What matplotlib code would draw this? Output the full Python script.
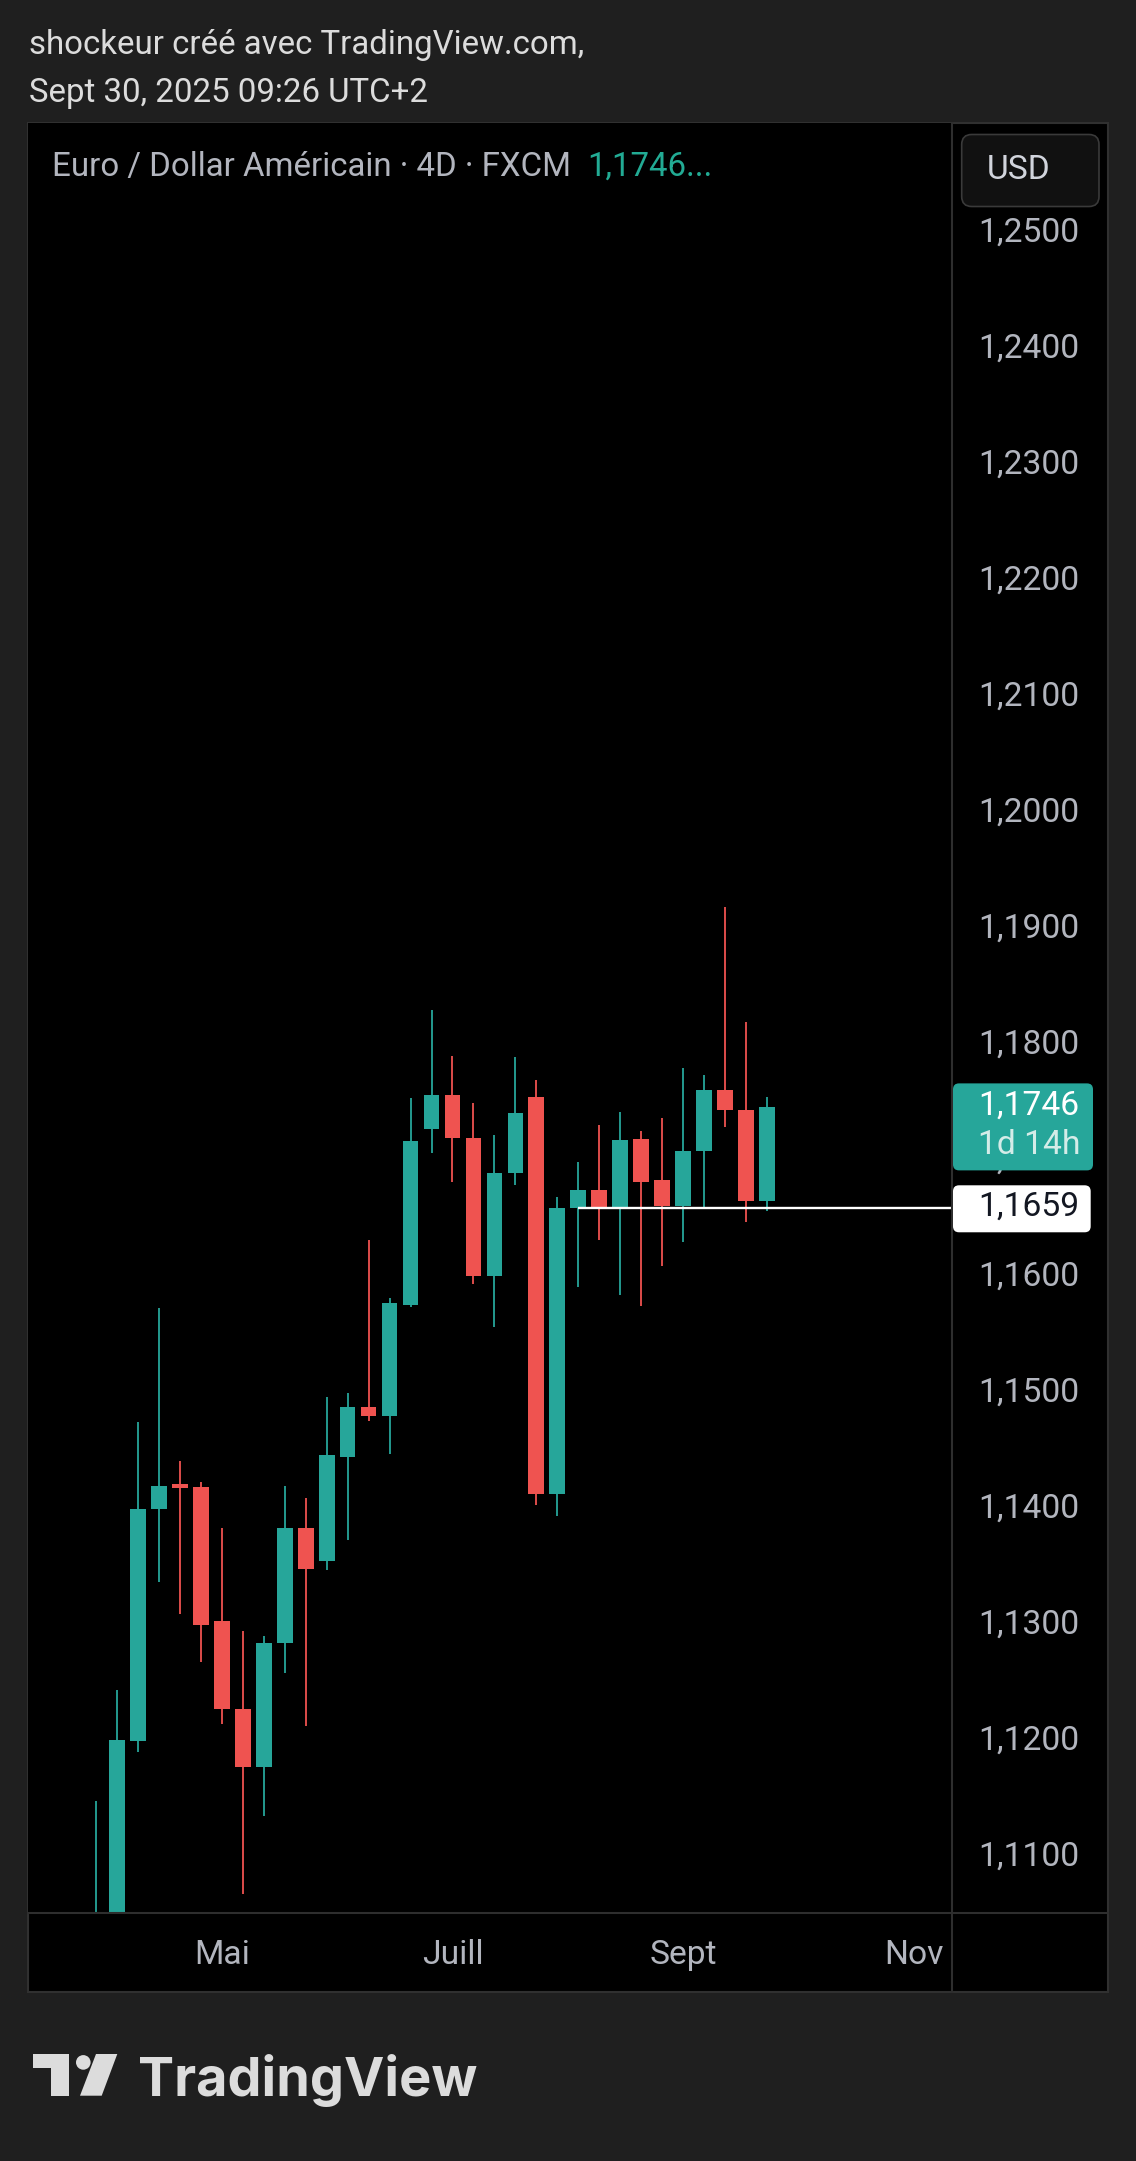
import matplotlib
matplotlib.use("Agg")
import matplotlib.pyplot as plt
from matplotlib.patches import Rectangle, FancyBboxPatch, Circle, Polygon
from matplotlib.lines import Line2D
from matplotlib.transforms import Affine2D, ScaledTranslation
import numpy as np

plt.rcParams['font.family'] = ['Roboto', 'DejaVu Sans']

# ---------------- data (EUR/USD, 4D candles) ----------------
opens  = [1.0960, 1.1010, 1.1200, 1.1400, 1.1421, 1.1419, 1.1303, 1.1227, 1.1177, 1.1284,
          1.1383, 1.1355, 1.1445, 1.1488, 1.1480, 1.1576, 1.1727, 1.1757, 1.1720, 1.1601,
          1.1689, 1.1755, 1.1413, 1.1659, 1.1675, 1.1660, 1.1719, 1.1683, 1.1661, 1.1708,
          1.1761, 1.1744, 1.1665]
highs  = [1.1148, 1.1244, 1.1475, 1.1573, 1.1441, 1.1423, 1.1383, 1.1295, 1.1290, 1.1420,
          1.1409, 1.1496, 1.1500, 1.1632, 1.1582, 1.1754, 1.1830, 1.1790, 1.1750, 1.1722,
          1.1789, 1.1770, 1.1669, 1.1699, 1.1731, 1.1742, 1.1726, 1.1737, 1.1780, 1.1774,
          1.1919, 1.1820, 1.1755]
lows   = [1.0930, 1.0995, 1.1190, 1.1337, 1.1309, 1.1268, 1.1214, 1.1068, 1.1135, 1.1258,
          1.1213, 1.1347, 1.1373, 1.1476, 1.1447, 1.1574, 1.1707, 1.1682, 1.1594, 1.1557,
          1.1679, 1.1403, 1.1394, 1.1591, 1.1632, 1.1584, 1.1575, 1.1609, 1.1630, 1.1660,
          1.1729, 1.1647, 1.1657]
closes = [1.1010, 1.1201, 1.1400, 1.1420, 1.1418, 1.1300, 1.1227, 1.1177, 1.1284, 1.1383,
          1.1348, 1.1446, 1.1488, 1.1480, 1.1577, 1.1717, 1.1757, 1.1720, 1.1601, 1.1689,
          1.1741, 1.1413, 1.1659, 1.1675, 1.1660, 1.1718, 1.1682, 1.1661, 1.1708, 1.1761,
          1.1744, 1.1665, 1.1746]
month_labels = ['Mai', 'Juill', 'Sept', 'Nov']
month_bar_index = [6, 17, 28, 39]
price_ticks = [1.11, 1.12, 1.13, 1.14, 1.15, 1.16, 1.17, 1.18, 1.19, 1.20,
               1.21, 1.22, 1.23, 1.24, 1.25]
ray_level = 1.1659
ray_start_bar = 23
countdown = '1d 14h'

# ---------------- styling ----------------
W, H = 1136, 2161
BG = '#1f1f1f'
PANEL = '#000000'
GRID = '#2e2e2e'
UP = '#26a69a'
DN = '#ef5350'
AXTXT = '#b2b5be'
HEAD = '#dcdcdc'
FS_AX = 24.2
FS_HEAD = 23.8

fig = plt.figure(figsize=(W / 100, H / 100), dpi=100, facecolor=BG)
px = Affine2D().scale(1, -1).translate(0, H)  # pixel coords, origin top-left

# plot area geometry (pixels)
L, R, T, B = 27.5, 951.7, 123.0, 1913.0
PR, PB = 1107.7, 1991.7

fig.add_artist(Rectangle((L, T), PR - L, PB - T, transform=px, facecolor=PANEL,
                         edgecolor='#303030', lw=1.5, zorder=-2))

ax = fig.add_axes([L / W, 1 - B / H, (R - L) / W, (B - T) / H])
ax.set_facecolor(PANEL)
for s in ax.spines.values():
    s.set_visible(False)

n = len(opens)
x = np.arange(n)
o = np.array(opens); c = np.array(closes); hi = np.array(highs); lo = np.array(lows)
cols = np.where(c >= o, UP, DN)

ax.vlines(x, lo, hi, colors=cols, lw=1.3, zorder=2)
bottoms = np.minimum(o, c)
heights = np.maximum(np.abs(c - o), 0.00022)
ax.bar(x, heights, bottom=bottoms, width=0.75, color=cols, linewidth=0, zorder=3)

ax.set_ylim(1.10515, 1.25946)
ax.set_xlim(-3.266, 40.806)

# horizontal ray
ax.hlines(ray_level, ray_start_bar, 40.806, colors='white', lw=1.7, zorder=4)

# axes ticks
ax.yaxis.tick_right()
ax.set_yticks(price_ticks)
ax.set_yticklabels([f"{t:.4f}".replace('.', ',') for t in price_ticks])
ax.set_xticks(month_bar_index)
ax.set_xticklabels(month_labels)
ax.tick_params(axis='y', length=0, pad=19, labelsize=FS_AX, labelcolor=AXTXT)
ax.tick_params(axis='x', length=0, pad=19, labelsize=FS_AX, labelcolor=AXTXT)
up_shift = ScaledTranslation(0, 4 / 100, fig.dpi_scale_trans)
for lbl in ax.get_yticklabels():
    lbl.set_transform(lbl.get_transform() + up_shift)

# separators
fig.add_artist(Line2D([R, R], [T, PB], transform=px, color=GRID, lw=1.5, zorder=1))
fig.add_artist(Line2D([L, PR], [B, B], transform=px, color=GRID, lw=1.5, zorder=1))


def ypix(price):
    return H - ax.transData.transform((0, price))[1]


# last price label
last = closes[-1]
yc = ypix(last)
fig.add_artist(FancyBboxPatch((953, yc - 24), 140, 87, transform=px,
                              boxstyle='round,pad=0,rounding_size=6',
                              facecolor=UP, edgecolor='none', zorder=5))
fig.text(978, yc - 2, f"{last:.4f}".replace('.', ','), transform=px, ha='left', va='center',
         fontsize=FS_AX, color='white', zorder=6)
fig.text(978, yc + 38, countdown, transform=px, ha='left', va='center',
         fontsize=FS_AX, color='#d4ece8', zorder=6)

# ray level label
yr = ypix(ray_level)
fig.add_artist(FancyBboxPatch((953, yr - 23), 137.7, 47, transform=px,
                              boxstyle='round,pad=0,rounding_size=6',
                              facecolor='white', edgecolor='none', zorder=5))
fig.text(978, yr - 2, f"{ray_level:.4f}".replace('.', ','), transform=px, ha='left',
         va='center', fontsize=FS_AX, color='#131722', zorder=6)

# USD button
fig.add_artist(FancyBboxPatch((961.7, 134.5), 137.3, 72, transform=px,
                              boxstyle='round,pad=0,rounding_size=10',
                              facecolor='#111111', edgecolor='#3a3a3a', lw=1.2, zorder=5))
fig.text(1019, 170, 'USD', transform=px, ha='center', va='center', fontsize=FS_AX,
         color='#d1d4dc', zorder=6)

# header
fig.text(29, 54, 'shockeur créé avec TradingView.com,', transform=px, ha='left',
         va='baseline', fontsize=FS_HEAD, color=HEAD)
fig.text(29, 102, 'Sept 30, 2025 09:26 UTC+2', transform=px, ha='left',
         va='baseline', fontsize=FS_HEAD, color=HEAD)

# legend
r = fig.canvas.get_renderer()
leg = fig.text(52, 176, 'Euro / Dollar Américain · 4D · FXCM', transform=px, ha='left',
               va='baseline', fontsize=FS_HEAD, color=AXTXT, zorder=6)
leg_end = leg.get_window_extent(r).x1
fig.text(leg_end + 16, 176, f"{last:.4f}".replace('.', ',') + '...', transform=px, ha='left',
         va='baseline', fontsize=FS_HEAD, color='#22ab94', zorder=6)

# TradingView logo
LOGO = '#dcdcdc'
fig.add_artist(Polygon([(33.3, 2054), (69.3, 2054), (69.3, 2095.7), (50.7, 2095.7),
                        (50.7, 2068.3), (33.3, 2068.3)], closed=True, transform=px,
                       facecolor=LOGO, edgecolor='none'))
fig.add_artist(Circle((83.3, 2062.4), 7.3, transform=px, facecolor=LOGO, edgecolor='none'))
fig.add_artist(Polygon([(96, 2054), (117.3, 2054), (101.7, 2095.7), (80, 2095.7)],
                       closed=True, transform=px, facecolor=LOGO, edgecolor='none'))
tv = fig.text(138.3, 2095.7, 'TradingView', transform=px, ha='left', va='baseline',
              fontsize=41, fontweight='bold', color=LOGO, family=['Inter', 'Roboto', 'DejaVu Sans'])
wpx = tv.get_window_extent(r).width
tv.set_fontsize(41 * 339.0 / wpx)

fig.savefig('out.png', dpi=100, facecolor=BG)
